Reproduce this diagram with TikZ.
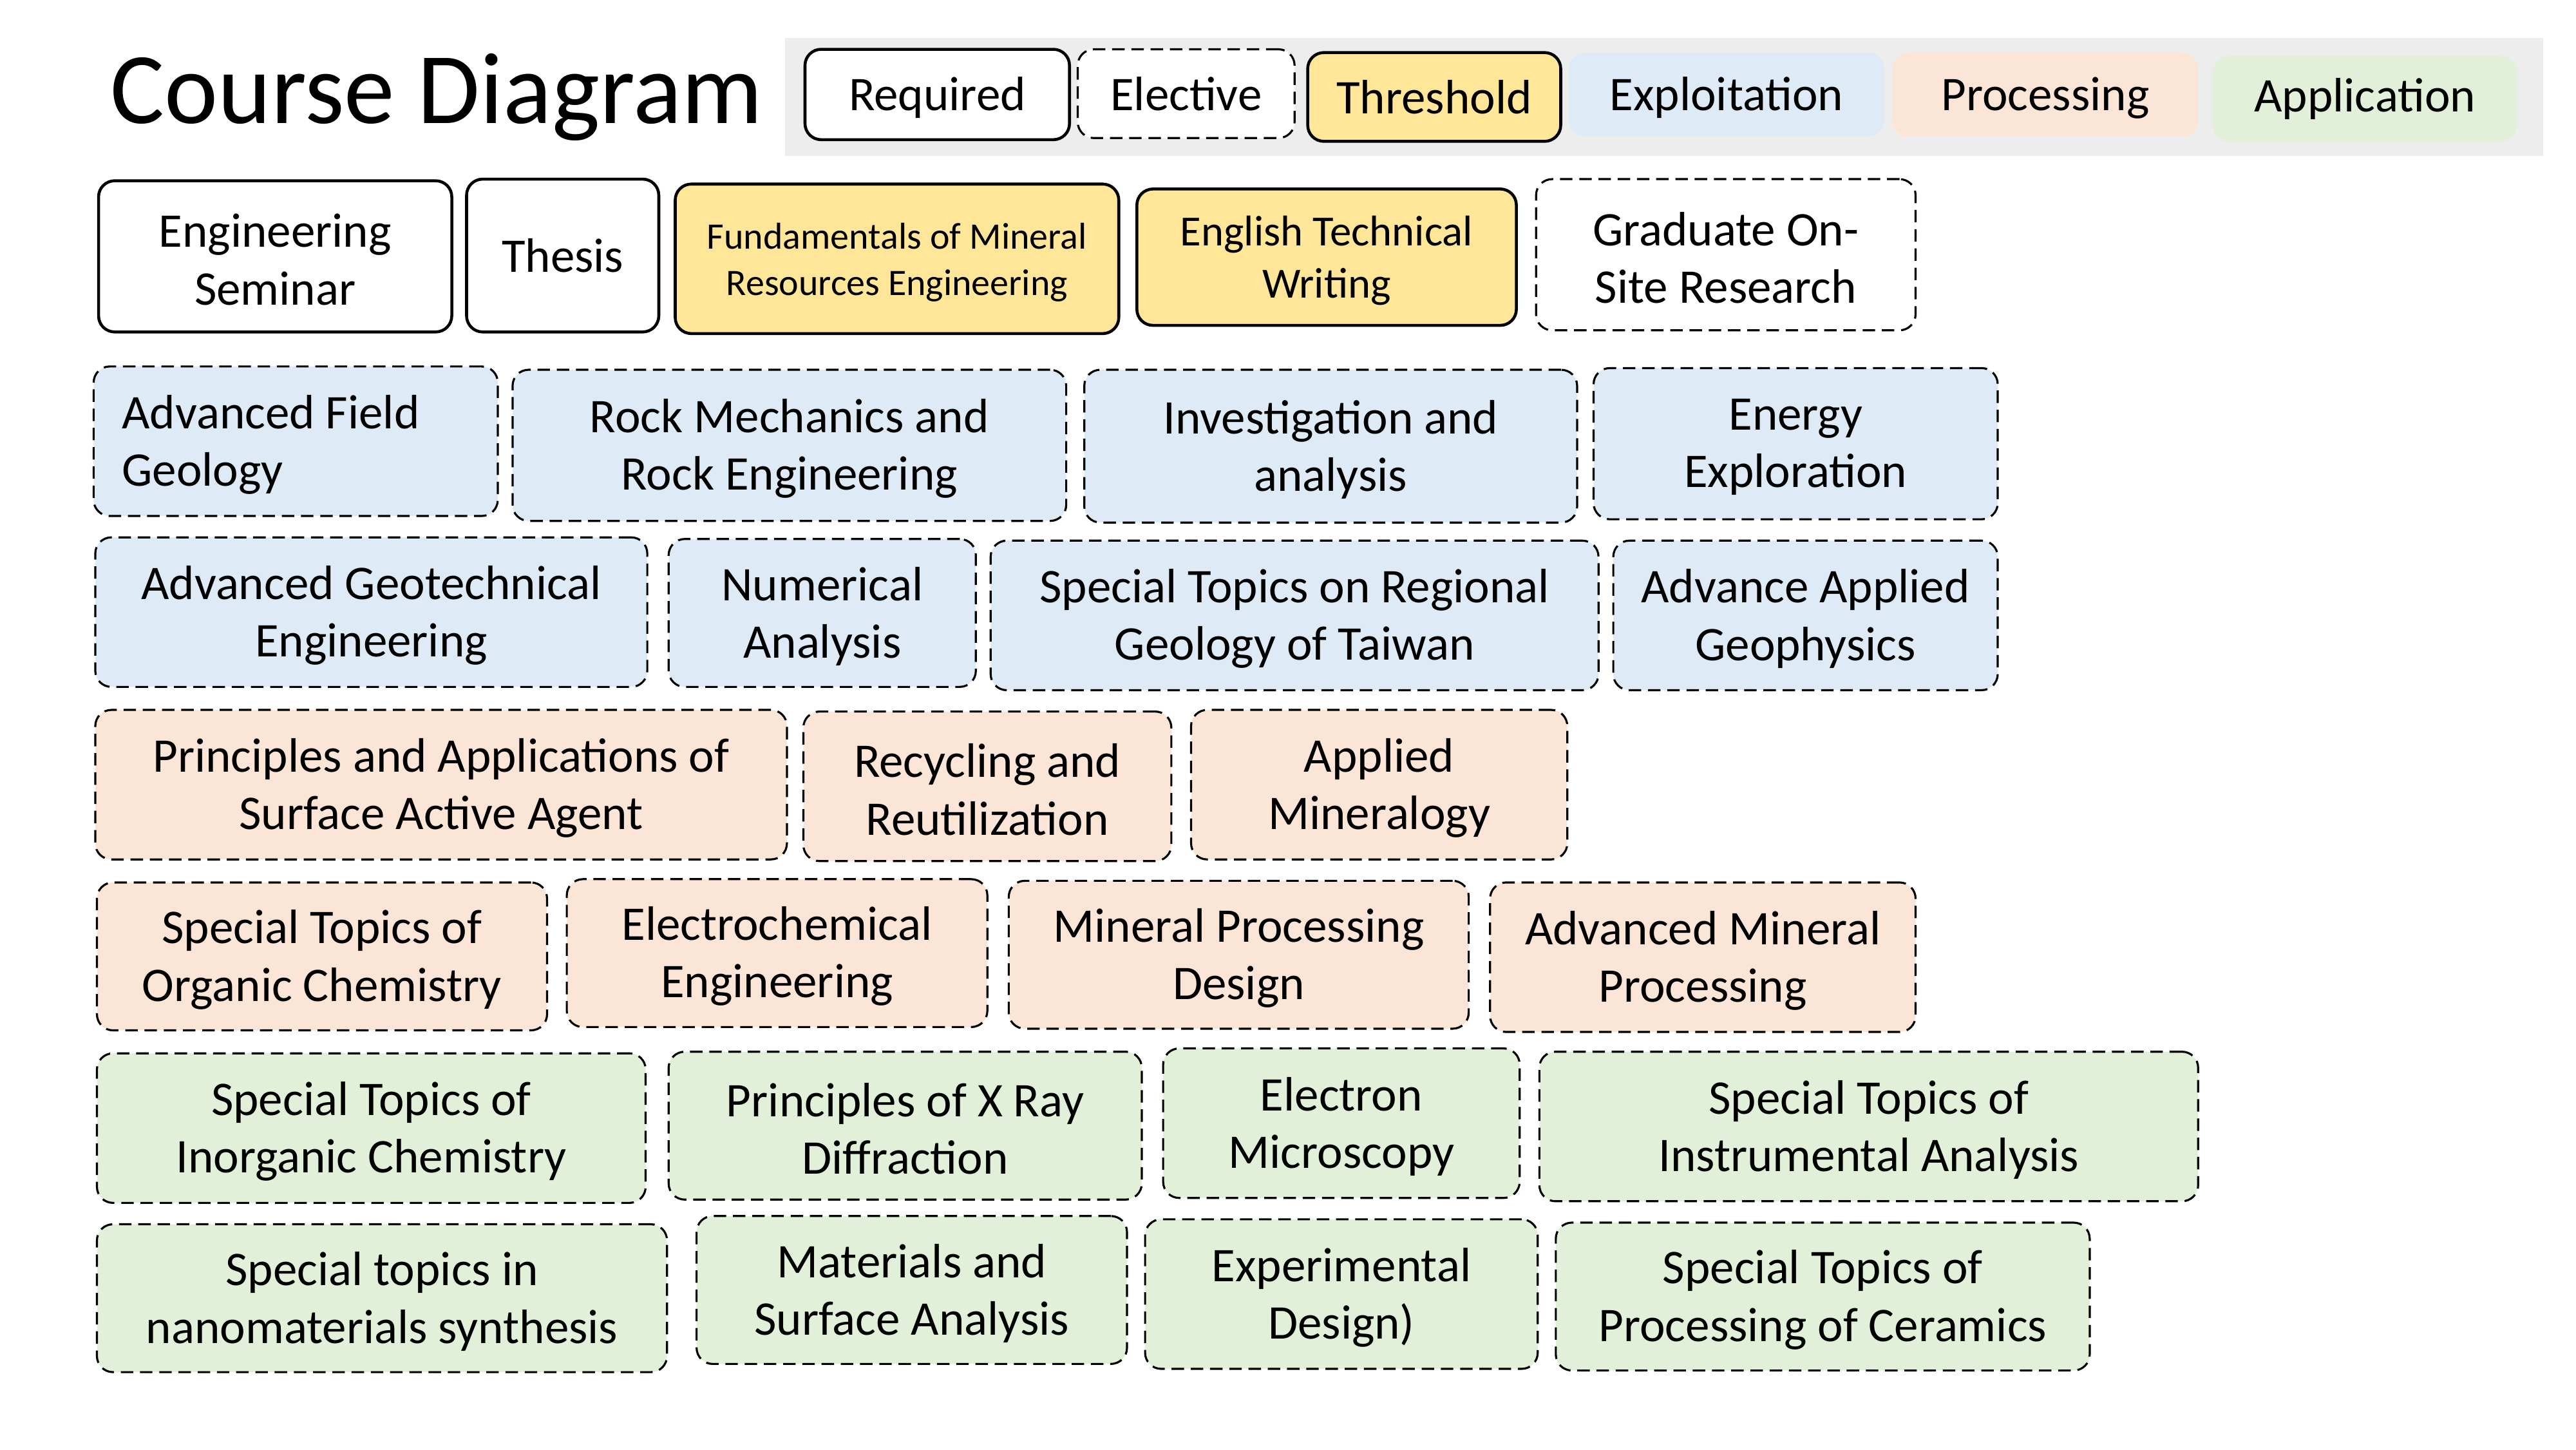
\documentclass[tikz,border=0pt]{standalone}
\usepackage{fontspec}
\setmainfont{Carlito}
\definecolor{thr}{HTML}{FFE699}
\definecolor{expl}{HTML}{DEEBF7}
\definecolor{proc}{HTML}{FBE5D6}
\definecolor{appl}{HTML}{E2F0D9}
\definecolor{legbg}{HTML}{EDEDED}
% #1 name, #2-#5 box corners, #6 box style, #7 text options, #8 text
\newcommand\crs[8]{%
 \pgfmathsetmacro\crsx{(#2+#4)/2}\pgfmathsetmacro\crsy{(#3+#5)/2}%
 \pgfmathsetmacro\crsw{(#4-#2)*0.02551}\pgfmathsetmacro\crsh{(#5-#3)*0.02551}%
 \node[#6, minimum width=\crsw cm, minimum height=\crsh cm] (#1) at (\crsx,\crsy) {};
 \node[txt, #7] (#1-txt) at (\crsx,\crsy) {#8};}
\tikzset{
 base/.style={rounded corners=0.25cm, inner sep=0pt},
 txt/.style={align=center, inner sep=0pt, text=black, yshift=-2*0.02551cm, font=\fontsize{21.35}{25.4}\selectfont},
 noshift/.style={yshift=2*0.02551cm},
 req/.style={base, draw, line width=1.3pt, fill=white},
 elec/.style={base, draw, line width=0.9pt, dash pattern=on 5.5pt off 3pt},
 thrbox/.style={req, fill=thr},
 exbox/.style={elec, fill=expl},
 prbox/.style={elec, fill=proc},
 apbox/.style={elec, fill=appl},
 legfill/.style={base, fill=#1},
}
\begin{document}
\begin{tikzpicture}[x=0.02551cm, y=-0.02551cm]
\useasboundingbox (0,0) rectangle (1568,882);
\fill[white] (0,0) rectangle (1568,882);
% title
\node[anchor=base west, inner sep=0pt, font=\fontsize{44.8}{54}\selectfont] (title) at (67,75) {Course Diagram};
% legend
\fill[legbg] (478,23) rectangle (1548,95);
\crs{lreq}{490}{30}{651}{85}{req}{}{Required}
\crs{lele}{656}{30}{788}{84}{elec, fill=white}{noshift}{Elective}
\crs{lthr}{796}{32}{950}{86}{thrbox}{noshift}{Threshold}
\crs{lexp}{955}{32}{1147}{83}{legfill=expl}{}{Exploitation}
\crs{lpro}{1152}{32}{1338}{83}{legfill=proc}{}{Processing}
\crs{lapp}{1347}{34}{1532}{86}{legfill=appl}{noshift}{Application}
% row 1
\crs{seminar}{60}{110}{275}{202}{req}{}{Engineering\\Seminar}
\crs{thesis}{284}{109}{401}{202}{req}{noshift}{Thesis}
\crs{fund}{411}{112}{681}{203}{thrbox}{font=\fontsize{16.5}{20.5}\selectfont}{Fundamentals of Mineral\\Resources Engineering}
\crs{etw}{692}{115}{923}{198}{thrbox}{font=\fontsize{19}{23}\selectfont}{English Technical\\Writing}
\crs{onsite}{935}{109}{1166}{201}{elec, fill=white}{}{Graduate On-\\Site Research}
% row 2
\node[exbox, minimum width=246*0.02551cm, minimum height=91*0.02551cm] (afg) at (180,268.5) {};
\node[txt, align=left, anchor=west] (afg-txt) at (74,268.5) {Advanced Field\\Geology};
\crs{rock}{312}{225}{649}{317}{exbox}{}{Rock Mechanics and\\Rock Engineering}
\crs{inv}{660}{225}{960}{318}{exbox}{}{Investigation and\\analysis}
\crs{energy}{970}{224}{1216}{316}{exbox}{}{Energy\\Exploration}
% row 3
\crs{geotech}{58}{327}{394}{418}{exbox}{}{Advanced Geotechnical\\Engineering}
\crs{numer}{407}{328}{594}{418}{exbox}{}{Numerical\\Analysis}
\crs{taiwan}{603}{329}{973}{420}{exbox}{}{Special Topics on Regional\\Geology of Taiwan}
\crs{geoph}{982}{329}{1216}{420}{exbox}{}{Advance Applied\\Geophysics}
% row 4
\crs{surf}{58}{432}{479}{523}{prbox}{}{Principles and Applications of\\Surface Active Agent}
\crs{recyc}{489}{433}{713}{524}{prbox}{}{Recycling and\\Reutilization}
\crs{minera}{725}{432}{954}{523}{prbox}{}{Applied\\Mineralogy}
% row 5
\crs{organic}{59}{537}{333}{627}{prbox}{}{Special Topics of\\Organic Chemistry}
\crs{electro}{345}{535}{601}{625}{prbox}{}{Electrochemical\\Engineering}
\crs{mpd}{614}{536}{894}{626}{prbox}{}{Mineral Processing\\Design}
\crs{amp}{907}{537}{1166}{628}{prbox}{}{Advanced Mineral\\Processing}
% row 6
\crs{inorg}{59}{641}{393}{732}{apbox}{}{Special Topics of\\Inorganic Chemistry}
\crs{xray}{407}{640}{695}{730}{apbox}{}{Principles of X Ray\\Diffraction}
\crs{em}{708}{638}{925}{729}{apbox}{}{Electron\\Microscopy}
\crs{instr}{937}{640}{1338}{731}{apbox}{}{Special Topics of\\Instrumental Analysis}
% row 7
\crs{nano}{59}{745}{406}{835}{apbox}{}{Special topics in\\nanomaterials synthesis}
\crs{matsurf}{424}{740}{686}{830}{apbox}{}{Materials and\\Surface Analysis}
\crs{expd}{697}{742}{936}{833}{apbox}{}{Experimental\\Design)}
\crs{ceram}{947}{744}{1272}{834}{apbox}{}{Special Topics of\\Processing of Ceramics}
\end{tikzpicture}
\end{document}
